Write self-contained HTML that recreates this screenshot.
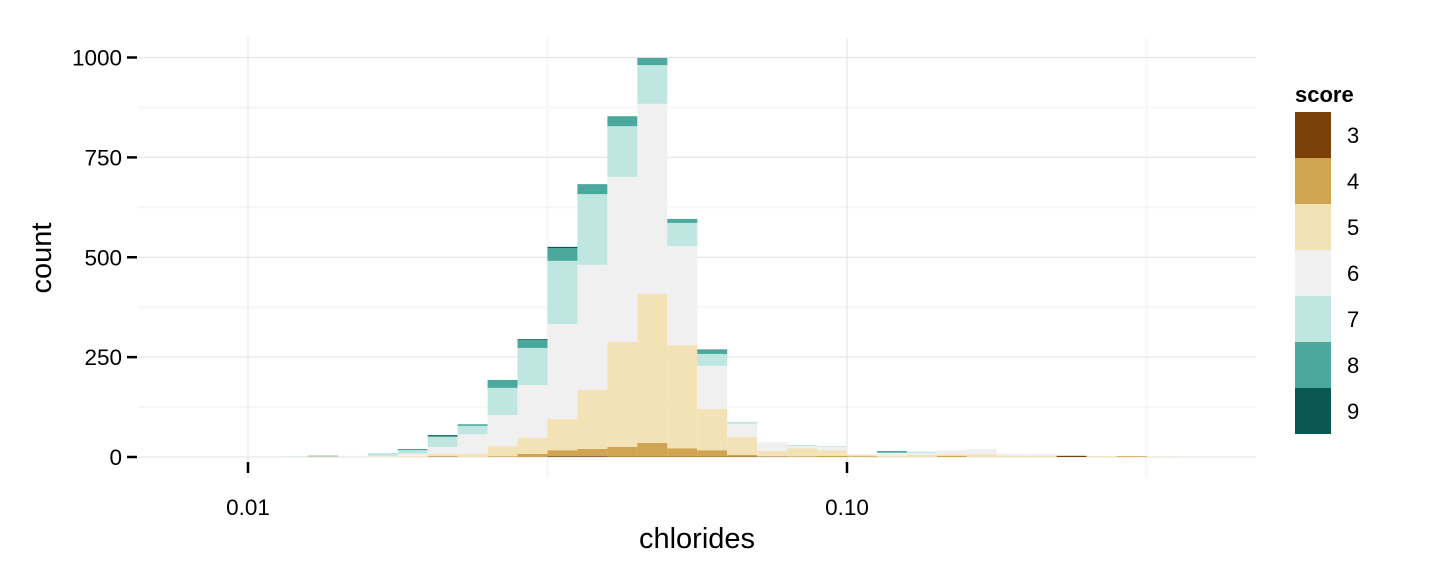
<!DOCTYPE html>
<html><head><meta charset="utf-8"><style>
html,body{margin:0;padding:0;background:#fff;}
svg{display:block;font-family:"Liberation Sans",Arial,sans-serif;}
</style></head><body>
<svg id="chart" width="1440" height="576" viewBox="0 0 1440 576" xmlns="http://www.w3.org/2000/svg">
<g id="grid"></g>
<g id="bars"></g>
<g id="axes"></g>
<text x="697" y="548" font-size="29" text-anchor="middle" fill="#000">chlorides</text>
<text transform="translate(51,258) rotate(-90)" font-size="29" text-anchor="middle" fill="#000">count</text>
<g id="legend">
<text x="1295" y="102" font-size="22" font-weight="bold" fill="#000">score</text>
</g>
</svg>
<script>
const scores = ["3","4","5","6","7","8","9"];
const colors = ["#7A400A","#CFA552","#F3E2B6","#F0F0F0","#BFE6E0","#4BA89C","#0C5850"];
// bin index k: bin covers log10(x) in [-2+0.05k, -2+0.05(k+1)]
const binIndex = [1,2,3,4,5,6,7,8,9,10,11,12,13,14,15,16,17,18,19,20,21,22,23,24,25,26,27,28,29,30];
const s3 = [0,0,0,0,0,1,0,0,0,2,2,1,1,1,1,1,1,0,0,0,0,0,0,0,0,0,3,0,0,0];
const s4 = [0,1,0,0,0,0,0,2,8,15,18,24,34,21,16,4,0,2,3,2,0,0,3,0,0,0,0,0,2,0];
const s5 = [0,0,0,1,2,7,8,25,40,78,148,263,373,258,103,45,14,20,14,3,3,5,4,7,3,3,0,2,0,1];
const s6 = [0,0,3,2,6,17,49,78,132,238,313,413,476,248,108,33,22,5,8,2,7,5,10,13,5,5,0,0,0,0];
const s7 = [1,4,0,7,9,25,21,68,93,158,177,127,97,58,30,5,0,3,2,0,1,3,0,0,0,0,0,0,0,0];
const s8 = [0,0,0,0,3,3,4,20,20,32,25,25,18,10,10,0,0,0,0,0,4,0,0,0,0,0,0,0,0,0];
const s9 = [0,0,0,0,0,2,0,0,2,3,0,0,0,0,1,0,0,0,0,0,0,0,0,0,0,0,0,0,0,0];
const series = [s3,s4,s5,s6,s7,s8,s9];
const yTicks = [0,250,500,750,1000];
const yMinor = [125,375,625,875];
const xTicks = [0.01,0.1];
const xTickLabels = ["0.01","0.10"];
const xMinor = [0.0316228,0.316228];

const NS="http://www.w3.org/2000/svg";
const PL=138, PR=1256, PT=38, PB=478;
function xs(v){return 248+599*(Math.log10(v)+2);}
function xl(l){return 248+599*(l+2);}
function ys(c){return 457-c*0.3995;}
function mk(tag,attrs,parent){const e=document.createElementNS(NS,tag);for(const k in attrs)e.setAttribute(k,attrs[k]);parent.appendChild(e);return e;}
const grid=document.getElementById('grid'),bars=document.getElementById('bars'),axes=document.getElementById('axes'),legend=document.getElementById('legend');
yMinor.forEach(t=>{const l=mk('line',{x1:PL,x2:PR,y1:ys(t),y2:ys(t),stroke:'#f6f6f6','stroke-width':2},grid);

});
xMinor.forEach(t=>{const l=mk('line',{x1:xs(t),x2:xs(t),y1:PT,y2:PB,stroke:'#f6f6f6','stroke-width':2},grid);

});
yTicks.forEach(t=>{const l=mk('line',{x1:PL,x2:PR,y1:ys(t),y2:ys(t),stroke:'#e6e6e6','stroke-width':1.2},grid);


const tx=mk('text',{x:122,y:ys(t)+8,'font-size':22.5,'text-anchor':'end',fill:'#000'},axes);tx.textContent=String(t);


const tk=mk('line',{x1:127,x2:137,y1:ys(t),y2:ys(t),stroke:'#000','stroke-width':2.5},axes);

});
xTicks.forEach((t,i)=>{const l=mk('line',{x1:xs(t),x2:xs(t),y1:PT,y2:PB,stroke:'#e6e6e6','stroke-width':1.2},grid);


const tk=mk('line',{x1:xs(t),x2:xs(t),y1:462,y2:473,stroke:'#000','stroke-width':2.5},axes);


const tx=mk('text',{x:xs(t),y:515,'font-size':22.5,'text-anchor':'middle',fill:'#000'},axes);tx.textContent=xTickLabels[i];

});
binIndex.forEach((k,b)=>{let cum=0;const x0=xl(-2+0.05*k),x1=xl(-2+0.05*(k+1));
series.forEach((s,si)=>{const v=s[b];if(v<=0)return;const y0=ys(cum),y1=ys(cum+v);cum+=v;
const r=mk('rect',{x:x0,y:y1,width:x1-x0,height:y0-y1,fill:colors[si]},bars);

});});
scores.forEach((s,i)=>{const y=112+i*46;
const r=mk('rect',{x:1295,y:y,width:36,height:46,fill:colors[i]},legend);


const t=mk('text',{x:1347,y:y+31,'font-size':22,fill:'#000'},legend);t.textContent=s;

});
</script>
</body></html>
